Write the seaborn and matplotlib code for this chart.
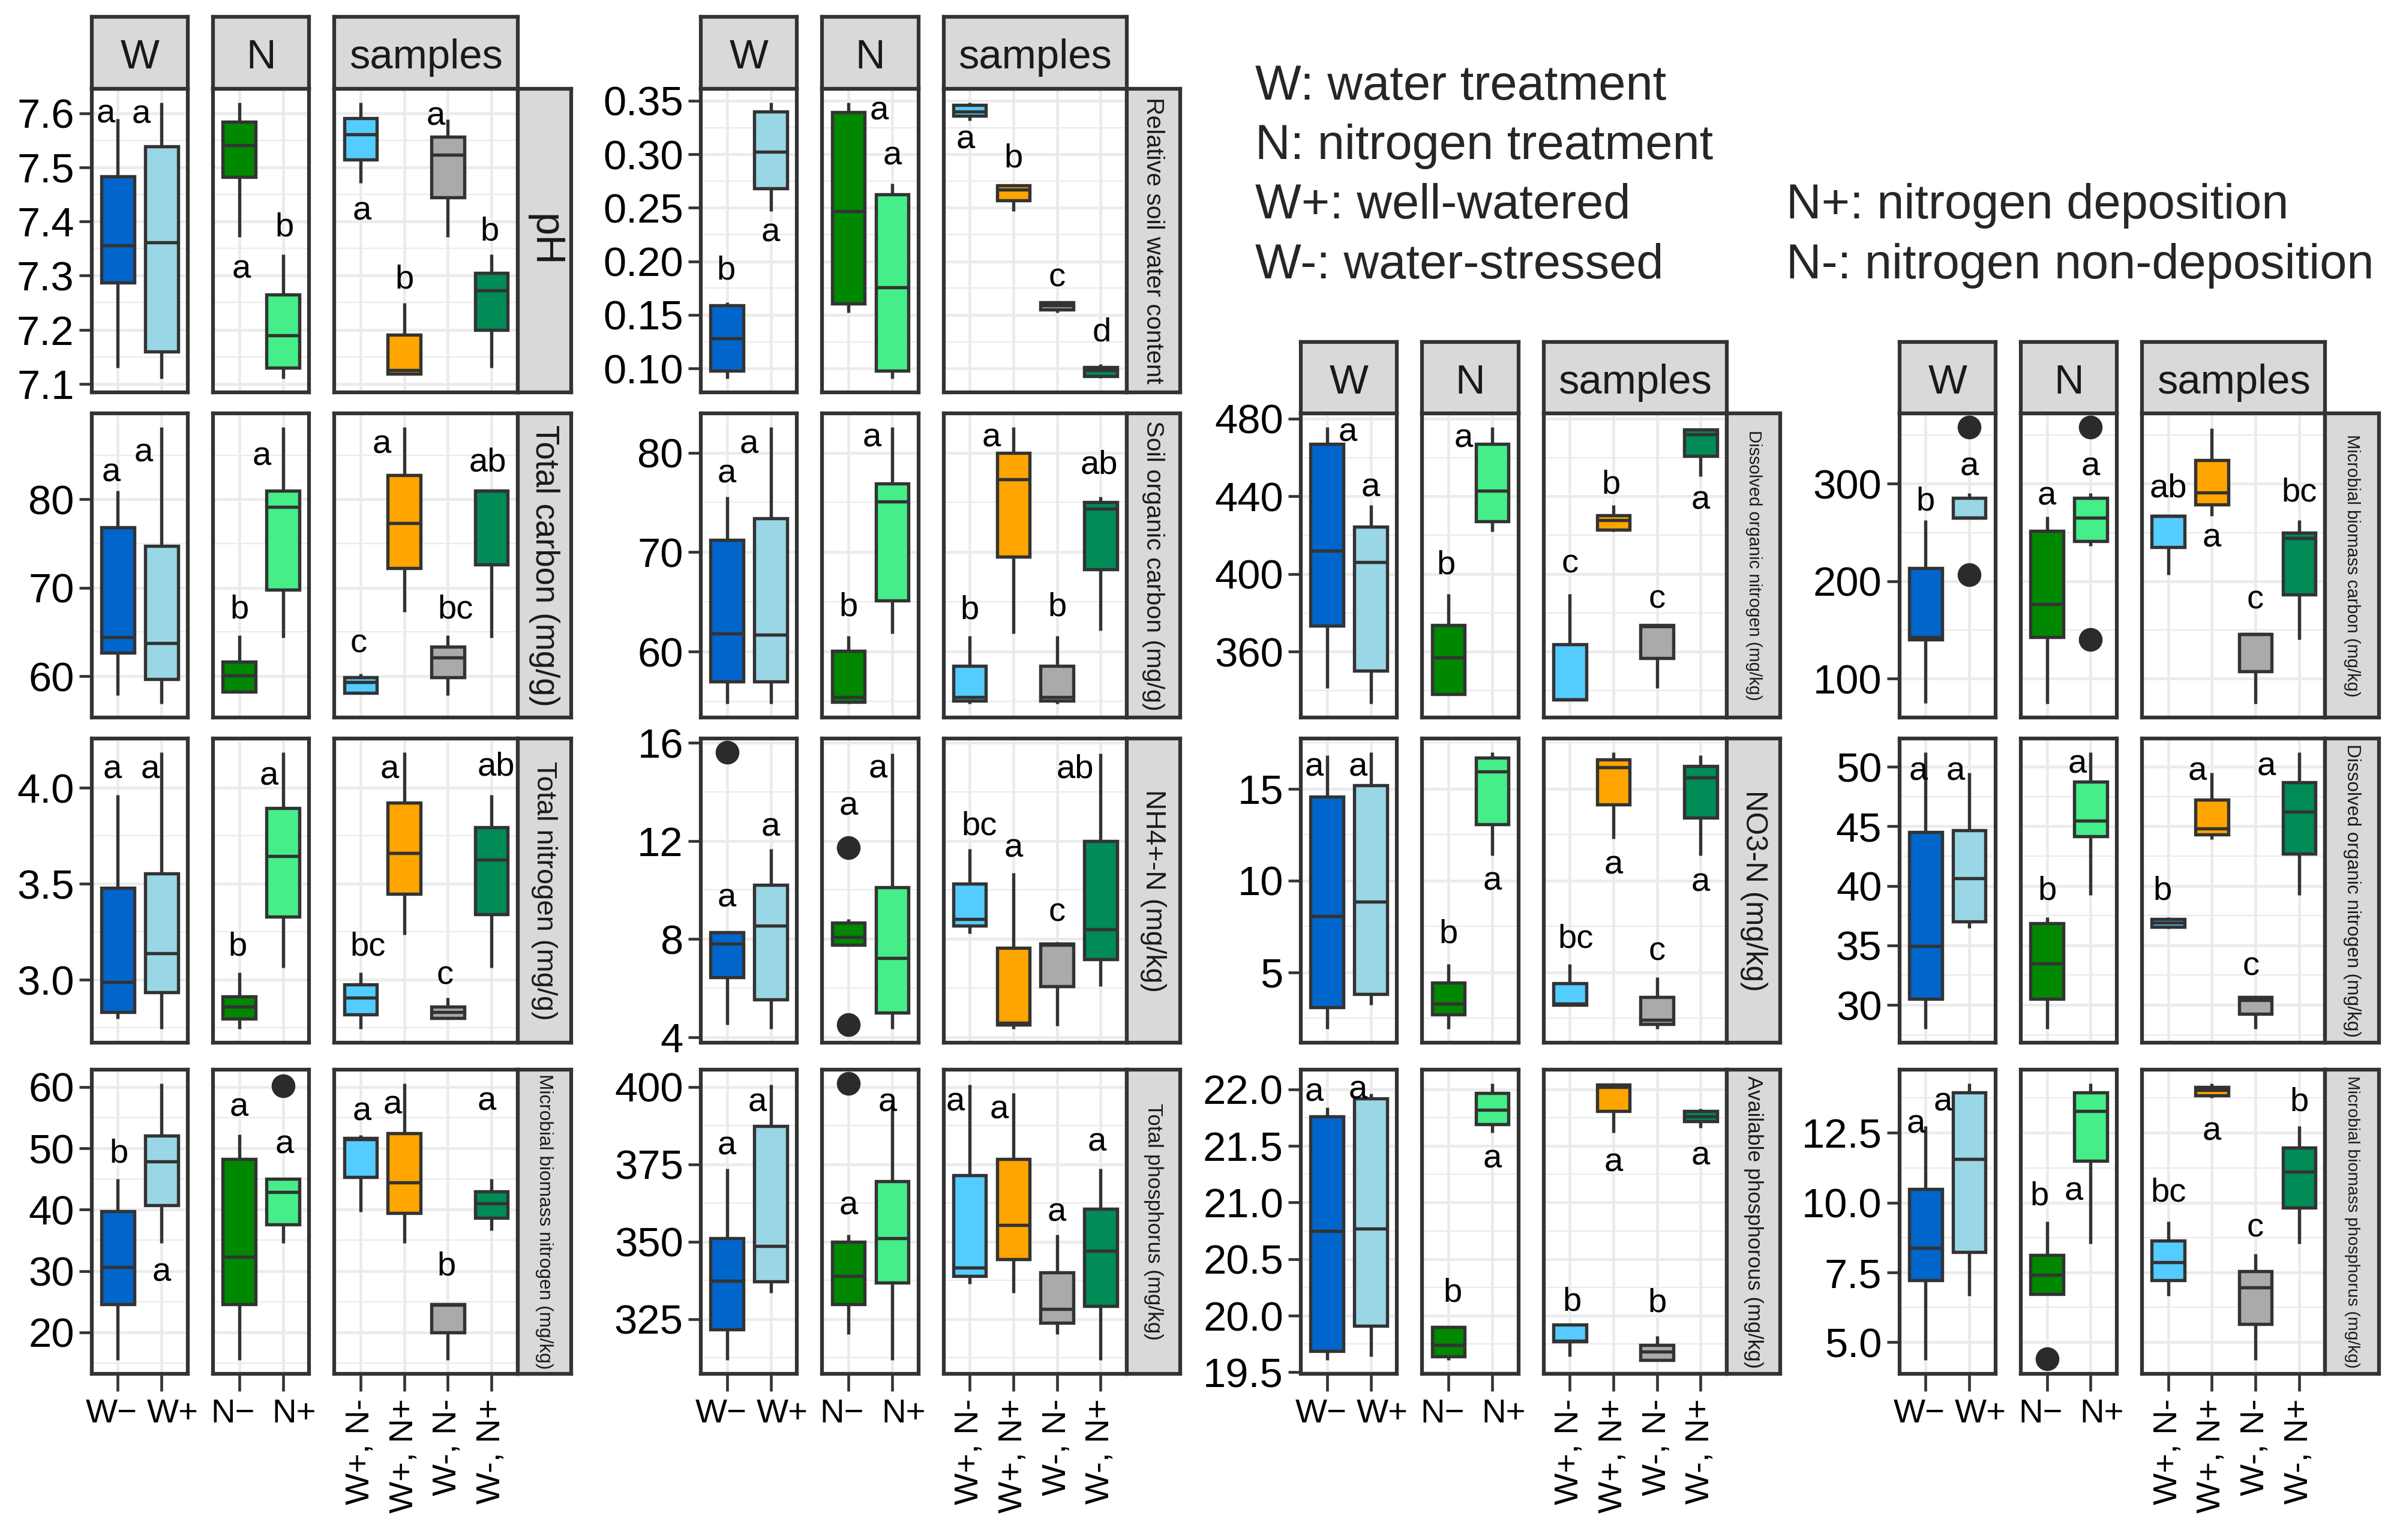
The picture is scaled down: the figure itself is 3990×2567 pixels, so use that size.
import numpy as np
import pandas as pd
import matplotlib
matplotlib.use("Agg")
import matplotlib.pyplot as plt
import seaborn as sns
from matplotlib.ticker import FixedLocator, AutoMinorLocator, FuncFormatter
from matplotlib.transforms import ScaledTranslation

sns.set_theme(style="white")
plt.rcParams["font.family"] = ["Liberation Sans", "DejaVu Sans"]

# categories (box order: W-, W+, N-, N+, then the four samples)
W_LEVELS = ["W−", "W+"]
N_LEVELS = ["N−", "N+"]
S_LEVELS = ["W+, N-", "W+, N+", "W-, N-", "W-, N+"]
COLORS = ["#0066CC", "#9AD7E6", "#008800", "#45EE88",
          "#55CCFF", "#FFA500", "#AAAAAA", "#008B57"]

# box stats: [low whisker, Q1, median, Q3, high whisker]
ph_box = [[7.130, 7.287, 7.356, 7.483, 7.590], [7.110, 7.160, 7.361, 7.539, 7.620],
          [7.371, 7.482, 7.541, 7.584, 7.620], [7.110, 7.130, 7.190, 7.265, 7.339],
          [7.471, 7.514, 7.561, 7.591, 7.620], [7.119, 7.119, 7.125, 7.191, 7.249],
          [7.371, 7.444, 7.523, 7.556, 7.589], [7.130, 7.200, 7.273, 7.305, 7.339]]
ph_letters = ["a", "a", "a", "b", "a", "b", "a", "b"]
ph_letter_y = [7.598, 7.597, 7.311, 7.389, 7.418, 7.292, 7.593, 7.381]
ph_letter_dx = [-0.28, -0.46, 0.05, 0.04, 0.03, 0, -0.28, -0.04]
ph_outliers = []

rswc_box = [[0.0907, 0.0977, 0.1279, 0.1589, 0.1619], [0.2466, 0.2683, 0.3022, 0.3397, 0.3485],
            [0.1523, 0.1606, 0.2466, 0.3392, 0.3485], [0.0907, 0.0977, 0.1757, 0.2625, 0.2725],
            [0.3316, 0.3362, 0.3400, 0.3460, 0.3480], [0.2466, 0.2567, 0.2670, 0.2708, 0.2720],
            [0.1523, 0.1550, 0.1589, 0.1619, 0.1624], [0.0909, 0.0927, 0.0985, 0.1015, 0.1040]]
rswc_letters = ["b", "a", "a", "a", "a", "b", "c", "d"]
rswc_letter_y = [0.1913, 0.2265, 0.3404, 0.2982, 0.3133, 0.2957, 0.1845, 0.1337]
rswc_letter_dx = [-0.02, 0, 0.7, 0, -0.1, 0, 0, 0.03]
rswc_outliers = []

tc_box = [[57.85, 62.65, 64.4, 76.85, 81.0], [56.9, 59.65, 63.75, 74.75, 88.15],
          [58.25, 58.25, 60.1, 61.6, 64.6], [64.35, 69.75, 79.15, 81.0, 88.15],
          [58.1, 58.1, 59.35, 59.85, 60.25], [67.25, 72.25, 77.35, 82.75, 88.15],
          [57.85, 59.9, 62.1, 63.35, 64.6], [64.35, 72.65, 81.0, 81.0, 81.0]]
tc_letters = ["a", "a", "b", "a", "c", "a", "bc", "ab"]
tc_letter_y = [83.0, 85.25, 67.5, 84.85, 63.65, 86.15, 67.5, 84.15]
tc_letter_dx = [-0.15, -0.41, 0, -0.48, -0.04, -0.52, 0.17, -0.09]
tc_outliers = []

soc_box = [[54.78, 57.0, 61.79, 71.25, 75.6], [54.78, 57.0, 61.7, 73.39, 82.54],
           [54.78, 54.96, 55.4, 60.09, 61.56], [61.79, 65.13, 75.09, 76.88, 82.54],
           [54.78, 55.09, 55.45, 58.57, 61.56], [61.79, 69.51, 77.32, 79.96, 82.54],
           [54.78, 55.09, 55.45, 58.57, 61.56], [62.1, 68.26, 74.38, 75.04, 75.6]]
soc_letters = ["a", "a", "b", "a", "b", "a", "b", "ab"]
soc_letter_y = [77.86, 80.76, 64.46, 81.43, 64.15, 81.43, 64.46, 78.75]
soc_letter_dx = [0, -0.5, 0, -0.46, 0, -0.5, 0, -0.04]
soc_outliers = []

tn_box = [[2.796, 2.831, 2.988, 3.479, 3.965], [2.745, 2.935, 3.137, 3.553, 4.185],
          [2.745, 2.796, 2.859, 2.912, 3.039], [3.063, 3.329, 3.646, 3.896, 4.185],
          [2.745, 2.819, 2.905, 2.975, 3.039], [3.236, 3.449, 3.660, 3.924, 4.185],
          [2.801, 2.801, 2.831, 2.859, 2.905], [3.063, 3.340, 3.625, 3.796, 3.965]]
tn_letters = ["a", "a", "b", "a", "bc", "a", "c", "ab"]
tn_letter_y = [4.093, 4.093, 3.171, 4.058, 3.171, 4.093, 3.021, 4.109]
tn_letter_dx = [-0.13, -0.26, -0.04, -0.32, 0.17, -0.33, -0.06, 0.11]
tn_outliers = []

nh4_box = [[4.49, 6.43, 7.81, 8.26, 8.26], [4.34, 5.53, 8.53, 10.21, 11.68],
           [7.76, 7.76, 8.08, 8.66, 8.80], [4.34, 4.99, 7.22, 10.10, 15.55],
           [8.23, 8.53, 8.80, 10.24, 11.68], [4.34, 4.49, 4.58, 7.63, 10.69],
           [4.45, 6.07, 7.76, 7.81, 7.87], [6.07, 7.18, 8.39, 11.99, 15.55]]
nh4_letters = ["a", "a", "a", "a", "bc", "a", "c", "ab"]
nh4_letter_y = [9.65, 12.53, 13.39, 14.92, 12.58, 11.68, 9.07, 14.92]
nh4_letter_dx = [0, 0, 0, -0.32, 0.22, 0, 0, -0.59]
nh4_outliers = [(0, 15.6), (2, 11.72), (2, 4.49)]

mbn_box = [[15.51, 24.55, 30.66, 39.76, 45.0], [34.56, 40.68, 47.88, 52.04, 60.54],
           [15.51, 24.55, 32.29, 48.25, 52.31], [34.56, 37.59, 42.84, 45.0, 45.0],
           [39.6, 45.28, 51.5, 51.66, 52.21], [34.56, 39.49, 44.47, 52.42, 60.54],
           [15.51, 20.0, 24.44, 24.55, 24.55], [36.62, 38.67, 41.06, 43.0, 45.0]]
mbn_letters = ["b", "a", "a", "a", "a", "a", "b", "a"]
mbn_letter_y = [49.07, 29.74, 56.64, 50.53, 55.94, 57.02, 30.66, 57.56]
mbn_letter_dx = [0.02, 0, 0, 0.04, 0.03, -0.27, -0.03, -0.11]
mbn_outliers = [(3, 60.16)]

tp_box = [[311.8, 321.7, 337.4, 351.1, 373.6], [333.4, 337.2, 348.5, 387.4, 400.7],
          [320.0, 329.7, 338.8, 350.0, 352.3], [311.8, 336.7, 351.1, 369.4, 394.5],
          [336.4, 338.8, 341.6, 371.4, 400.7], [333.4, 344.3, 355.3, 376.6, 398.0],
          [320.0, 323.7, 328.2, 340.1, 352.3], [311.8, 329.2, 347.0, 360.5, 373.6]]
tp_letters = ["a"] * 8
tp_letter_y = [380.9, 394.7, 361.5, 394.7, 395.0, 392.5, 359.3, 381.9]
tp_letter_dx = [0, -0.31, 0, -0.11, -0.33, -0.32, 0, -0.09]
tp_outliers = [(2, 401.0)]

don_box = [[341.1, 373.5, 412.1, 467.1, 475.5], [333.3, 350.3, 406.0, 424.3, 435.4],
           [338.2, 338.2, 357.1, 373.8, 389.7], [421.8, 427.0, 442.9, 467.1, 475.5],
           [335.5, 335.5, 335.5, 363.7, 389.7], [421.8, 422.8, 427.7, 430.2, 435.4],
           [341.1, 356.7, 373.1, 373.8, 373.8], [450.3, 460.7, 471.8, 474.4, 474.8]]
don_letters = ["a", "a", "b", "a", "c", "b", "c", "a"]
don_letter_y = [472.6, 444.4, 404.3, 469.6, 405.0, 445.8, 386.7, 437.7]
don_letter_dx = [0.47, 0, -0.05, -0.65, 0, -0.05, 0, 0]
don_outliers = []

mbc_box = [[74.9, 139.9, 142.8, 213.1, 262.5], [265.4, 265.4, 265.4, 285.5, 290.5],
           [74.3, 142.8, 176.2, 251.6, 266.3], [235.9, 241.2, 265.4, 285.5, 290.5],
           [206.4, 235.0, 266.9, 266.9, 266.9], [266.9, 278.7, 291.1, 324.5, 357.0],
           [74.3, 107.4, 145.8, 145.8, 145.8], [139.9, 186.3, 244.0, 249.8, 262.5]]
mbc_letters = ["b", "a", "a", "a", "ab", "a", "c", "bc"]
mbc_letter_y = [281.7, 317.1, 287.0, 317.1, 295.0, 243.9, 180.4, 290.5]
mbc_letter_dx = [0, 0, 0, 0, 0, 0, 0, 0]
mbc_outliers = [(1, 357.9), (1, 206.4), (3, 357.9), (3, 139.9)]

no3_box = [[1.93, 3.09, 8.05, 14.56, 16.81], [3.24, 3.82, 8.84, 15.18, 16.97],
           [1.93, 2.69, 3.28, 4.43, 5.44], [11.36, 13.05, 15.93, 16.70, 16.97],
           [3.22, 3.22, 3.28, 4.41, 5.44], [12.26, 14.15, 16.16, 16.60, 16.97],
           [1.93, 2.19, 2.40, 3.66, 4.72], [11.36, 13.43, 15.62, 16.22, 16.81]]
no3_letters = ["a", "a", "b", "a", "bc", "a", "c", "a"]
no3_letter_y = [16.16, 16.16, 7.05, 9.94, 6.80, 10.82, 6.11, 9.87]
no3_letter_dx = [-0.3, -0.3, 0, 0, 0.14, 0, 0, 0]
no3_outliers = []

don2_box = [[28.01, 30.52, 34.93, 44.53, 51.2], [36.43, 37.01, 40.63, 44.65, 49.52],
            [28.01, 30.52, 33.48, 36.86, 37.34], [39.24, 44.14, 45.46, 48.74, 51.2],
            [36.38, 36.57, 36.9, 37.2, 37.34], [43.91, 44.30, 44.82, 47.26, 49.52],
            [28.01, 29.23, 30.39, 30.64, 30.64], [39.24, 42.71, 46.23, 48.71, 51.2]]
don2_letters = ["a", "a", "b", "a", "b", "a", "c", "a"]
don2_letter_y = [49.6, 49.6, 39.57, 50.2, 39.57, 49.6, 33.19, 50.0]
don2_letter_dx = [-0.17, -0.31, 0, -0.31, -0.14, -0.33, -0.1, -0.75]
don2_outliers = []

ap_box = [[19.61, 19.69, 20.75, 21.76, 21.84], [19.64, 19.91, 20.77, 21.92, 21.96],
          [19.61, 19.64, 19.74, 19.90, 19.91], [21.62, 21.69, 21.82, 21.97, 22.05],
          [19.64, 19.77, 19.78, 19.92, 19.92], [21.62, 21.81, 22.02, 22.04, 22.05],
          [19.61, 19.61, 19.68, 19.74, 19.82], [21.66, 21.72, 21.76, 21.81, 21.83]]
ap_letters = ["a", "a", "b", "a", "b", "a", "b", "a"]
ap_letter_y = [21.97, 21.99, 20.20, 21.38, 20.12, 21.35, 20.11, 21.41]
ap_letter_dx = [-0.3, -0.3, 0.09, 0, 0.05, 0, 0, 0]
ap_outliers = []

mbp_box = [[4.37, 7.22, 8.38, 10.49, 12.75], [6.66, 8.23, 11.56, 13.94, 14.26],
           [6.72, 6.72, 7.41, 8.12, 9.33], [8.54, 11.50, 13.27, 13.94, 14.26],
           [6.66, 7.23, 7.87, 8.64, 9.33], [13.75, 13.84, 14.04, 14.14, 14.26],
           [4.37, 5.65, 6.96, 7.55, 8.17], [8.54, 9.83, 11.11, 11.97, 12.75]]
mbp_letters = ["a", "a", "b", "a", "bc", "a", "c", "b"]
mbp_letter_y = [12.80, 13.60, 10.22, 10.40, 10.34, 12.54, 9.09, 13.60]
mbp_letter_dx = [-0.22, -0.6, -0.17, -0.38, 0, 0, 0, 0]
mbp_outliers = [(2, 4.41)]

# variable table: (group, row, strip label, label size, data..., y ticks, tick format)
VARIABLES = [
    (0, 0, "pH", 16.5, ph_box, ph_letters, ph_letter_y, ph_letter_dx, ph_outliers,
     [7.1, 7.2, 7.3, 7.4, 7.5, 7.6], "{:.1f}"),
    (1, 0, "Relative soil water content", 9.8, rswc_box, rswc_letters, rswc_letter_y,
     rswc_letter_dx, rswc_outliers, [0.10, 0.15, 0.20, 0.25, 0.30, 0.35], "{:.2f}"),
    (0, 1, "Total carbon (mg/g)", 13.1, tc_box, tc_letters, tc_letter_y, tc_letter_dx,
     tc_outliers, [60, 70, 80], "{:.0f}"),
    (1, 1, "Soil organic carbon (mg/g)", 9.9, soc_box, soc_letters, soc_letter_y,
     soc_letter_dx, soc_outliers, [60, 70, 80], "{:.0f}"),
    (0, 2, "Total nitrogen (mg/g)", 11.3, tn_box, tn_letters, tn_letter_y, tn_letter_dx,
     tn_outliers, [3.0, 3.5, 4.0], "{:.1f}"),
    (1, 2, "NH4+-N (mg/kg)", 11.1, nh4_box, nh4_letters, nh4_letter_y, nh4_letter_dx,
     nh4_outliers, [4, 8, 12, 16], "{:.0f}"),
    (0, 3, "Microbial biomass nitrogen (mg/kg)", 7.6, mbn_box, mbn_letters, mbn_letter_y,
     mbn_letter_dx, mbn_outliers, [20, 30, 40, 50, 60], "{:.0f}"),
    (1, 3, "Total phosphorus (mg/kg)", 8.4, tp_box, tp_letters, tp_letter_y, tp_letter_dx,
     tp_outliers, [325, 350, 375, 400], "{:.0f}"),
    (2, 1, "Dissolved organic nitrogen (mg/kg)", 7.0, don_box, don_letters, don_letter_y,
     don_letter_dx, don_outliers, [360, 400, 440, 480], "{:.0f}"),
    (3, 1, "Microbial biomass carbon (mg/kg)", 7.0, mbc_box, mbc_letters, mbc_letter_y,
     mbc_letter_dx, mbc_outliers, [100, 200, 300], "{:.0f}"),
    (2, 2, "NO3-N (mg/kg)", 11.9, no3_box, no3_letters, no3_letter_y, no3_letter_dx,
     no3_outliers, [5, 10, 15], "{:.0f}"),
    (3, 2, "Dissolved organic nitrogen (mg/kg)", 7.6, don2_box, don2_letters, don2_letter_y,
     don2_letter_dx, don2_outliers, [30, 35, 40, 45, 50], "{:.0f}"),
    (2, 3, "Available phosphorous (mg/kg)", 8.5, ap_box, ap_letters, ap_letter_y,
     ap_letter_dx, ap_outliers, [19.5, 20.0, 20.5, 21.0, 21.5, 22.0], "{:.1f}"),
    (3, 3, "Microbial biomass phosphorus (mg/kg)", 6.8, mbp_box, mbp_letters, mbp_letter_y,
     mbp_letter_dx, mbp_outliers, [5.0, 7.5, 10.0, 12.5], "{:.1f}"),
]

EDGE = "#333333"
GRID = "#EBEBEB"
STRIP = "#D9D9D9"

# layout in reference display pixels (1568 x 1009)
DW, DH = 1568.0, 1009.0
GROUP_LEFT = [60, 459, 852, 1244]
SUB_X = [0, 79.5, 159]
SUB_W = [63, 63, 120]
STRIP_X, STRIP_W = 279, 35
ROW_TOP = [58, 271, 484, 701]
ROW_H = 199
TOP_STRIP_H = 47


def rect(x, y, w, h):
    return [x / DW, 1 - (y + h) / DH, w / DW, h / DH]


fig = plt.figure(figsize=(13.3, 8.5567), dpi=300)


def draw_var(gi, ri, label, lab_size, box, letters, let_y, let_dx, outliers, ticks, fmt):
    x0 = GROUP_LEFT[gi]
    y0 = ROW_TOP[ri]
    vals = [v for b in box for v in b] + list(let_y) + [o[1] for o in outliers]
    lo, hi = min(vals), max(vals)
    pad = 0.05 * (hi - lo)
    panels = [(W_LEVELS, 0, "W"), (N_LEVELS, 2, "N"), (S_LEVELS, 4, "samples")]
    for k, (levels, start, title) in enumerate(panels):
        ax = fig.add_axes(rect(x0 + SUB_X[k], y0, SUB_W[k], ROW_H))
        n = len(levels)
        df = pd.DataFrame({"group": np.repeat(levels, 5),
                           "value": np.concatenate(box[start:start + n])})
        pal = dict(zip(levels, COLORS[start:start + n]))
        sns.boxplot(data=df, x="group", y="value", hue="group", order=levels,
                    hue_order=levels, palette=pal, saturation=1, width=0.75,
                    whis=np.inf, showcaps=False, linecolor=EDGE, linewidth=1.3,
                    legend=False, ax=ax)
        outs = [(levels[i - start], v) for i, v in outliers if start <= i < start + n]
        if outs:
            odf = pd.DataFrame(outs, columns=["group", "value"])
            sns.stripplot(data=odf, x="group", y="value", order=levels, color="#2B2B2B",
                          size=9.5, jitter=False, ax=ax)
        for j in range(n):
            ax.text(j + let_dx[start + j], let_y[start + j], letters[start + j],
                    ha="center", va="center", fontsize=13.5, color="black")
        ax.set_xlim(-0.6, n - 0.4)
        ax.set_ylim(lo - pad, hi + pad)
        ax.set_xlabel("")
        ax.set_ylabel("")
        ax.yaxis.set_major_locator(FixedLocator(ticks))
        ax.yaxis.set_minor_locator(AutoMinorLocator(2))
        ax.yaxis.set_major_formatter(FuncFormatter(lambda v, p, f=fmt: f.format(v)))
        ax.set_axisbelow(True)
        ax.grid(True, which="major", color=GRID, linewidth=1.1)
        ax.grid(True, which="minor", axis="y", color=GRID, linewidth=0.55)
        ax.set_facecolor("white")
        for s in ax.spines.values():
            s.set_color(EDGE)
            s.set_linewidth(1.5)
        ax.tick_params(axis="y", which="major", left=(k == 0), length=5, width=1.1,
                       color=EDGE, labelsize=16.5, labelleft=(k == 0), pad=2,
                       labelcolor="black")
        ax.tick_params(axis="y", which="minor", left=False, length=0)
        if ri == 3:
            ax.tick_params(axis="x", bottom=True, length=7, width=1.1, color=EDGE,
                           labelsize=13.5, pad=3, labelbottom=True, labelcolor="black",
                           labelrotation=90 if k == 2 else 0)
            if k < 2:
                # the two short labels sit spread apart, as in the reference
                for tick, dx in zip(ax.xaxis.get_major_ticks(), [-2.5, 4.5]):
                    tick.label1.set_transform(tick.label1.get_transform() +
                                              ScaledTranslation(dx / 72, 0, fig.dpi_scale_trans))
        else:
            ax.tick_params(axis="x", bottom=False, length=0, labelbottom=False)
        top_row = 0 if gi < 2 else 1
        if ri == top_row:
            tax = fig.add_axes(rect(x0 + SUB_X[k], y0 - TOP_STRIP_H, SUB_W[k], TOP_STRIP_H))
            tax.set_facecolor(STRIP)
            tax.set_xticks([])
            tax.set_yticks([])
            for s in tax.spines.values():
                s.set_color(EDGE)
                s.set_linewidth(1.5)
            tax.text(0.5, 0.43, title, ha="center", va="center", fontsize=16.5,
                     color="#1A1A1A", transform=tax.transAxes)
    sax = fig.add_axes(rect(x0 + STRIP_X, y0, STRIP_W, ROW_H))
    sax.set_facecolor(STRIP)
    sax.set_xticks([])
    sax.set_yticks([])
    for s in sax.spines.values():
        s.set_color(EDGE)
        s.set_linewidth(1.5)
    sax.text(0.5, 0.5, label, rotation=270, ha="center", va="center",
             fontsize=lab_size, color="#1A1A1A", transform=sax.transAxes)


for var in VARIABLES:
    draw_var(*var)

# legend text
legend_left = ["W: water treatment", "N: nitrogen treatment",
               "W+: well-watered", "W-: water-stressed"]
legend_right = ["N+: nitrogen deposition", "N-: nitrogen non-deposition"]
for i, t in enumerate(legend_left):
    fig.text(822 / DW, 1 - (57 + 39 * i) / DH, t, ha="left", va="center", fontsize=19.5)
for i, t in enumerate(legend_right):
    fig.text(1170 / DW, 1 - (135 + 39 * i) / DH, t, ha="left", va="center", fontsize=19.5)

fig.savefig("out.png", dpi=300, facecolor="white")
